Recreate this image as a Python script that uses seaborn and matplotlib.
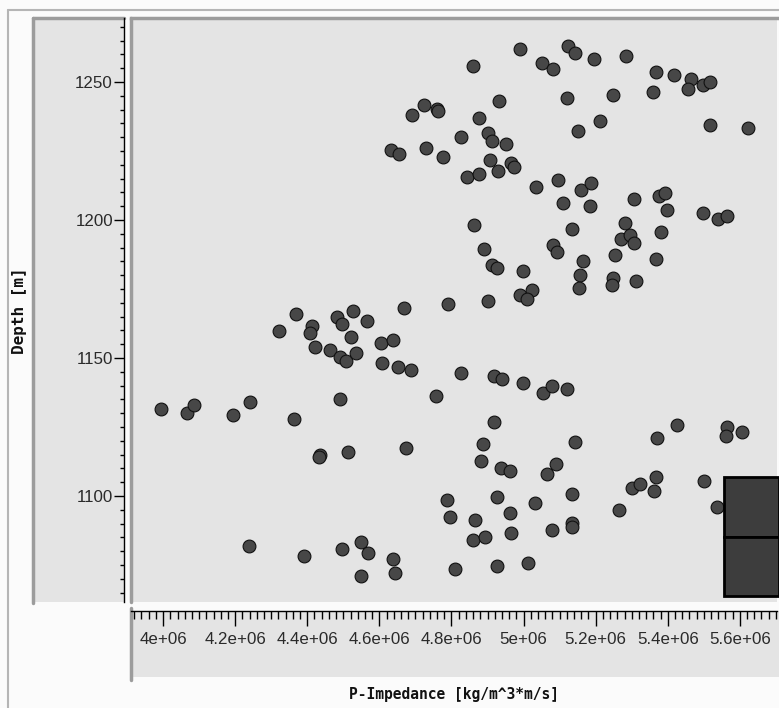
import matplotlib
matplotlib.use("Agg")
import matplotlib.pyplot as plt
import seaborn as sns
import pandas as pd
from matplotlib.patches import Rectangle
from matplotlib.lines import Line2D
from matplotlib.ticker import MultipleLocator

# ---------------- data ----------------
p_impedance = [
    4.990e6, 4.859e6, 5.124e6, 5.143e6, 5.052e6, 5.081e6, 5.194e6, 5.284e6, 5.368e6, 5.416e6,
    5.464e6, 5.457e6, 5.499e6, 5.517e6, 5.358e6, 5.249e6, 5.120e6, 4.933e6, 4.724e6, 4.690e6,
    4.761e6, 4.763e6, 5.517e6, 5.622e6, 5.212e6, 5.150e6, 4.876e6, 4.826e6, 4.902e6, 4.912e6,
    4.951e6, 4.632e6, 4.654e6, 4.730e6, 4.776e6, 4.907e6, 4.930e6, 4.965e6, 4.974e6, 4.844e6,
    4.876e6, 5.035e6, 5.095e6, 5.159e6, 5.186e6, 5.110e6, 5.183e6, 5.305e6, 5.377e6, 5.393e6,
    5.399e6, 5.499e6, 5.538e6, 5.564e6, 4.863e6, 5.134e6, 5.280e6, 5.270e6, 5.295e6, 5.305e6,
    5.381e6, 4.891e6, 5.081e6, 5.094e6, 4.912e6, 4.926e6, 4.998e6, 5.164e6, 5.157e6, 5.154e6,
    5.254e6, 5.368e6, 5.249e6, 5.245e6, 5.312e6, 4.990e6, 5.023e6, 5.009e6, 4.902e6,
    4.370e6, 4.321e6, 4.413e6, 4.407e6, 4.483e6, 4.497e6, 4.526e6, 4.567e6, 4.668e6, 4.791e6,
    4.520e6, 4.422e6, 4.463e6, 4.491e6, 4.508e6, 4.535e6, 4.604e6, 4.637e6, 4.606e6, 4.651e6,
    4.687e6, 4.826e6, 4.756e6, 4.490e6, 3.995e6, 4.067e6, 4.087e6, 4.194e6, 4.240e6, 4.364e6,
    4.436e6, 4.432e6, 4.513e6, 4.674e6, 4.787e6, 4.796e6, 4.239e6, 4.390e6, 4.497e6, 4.550e6,
    4.569e6, 4.550e6, 4.639e6, 4.644e6, 4.811e6,
    4.918e6, 4.940e6, 4.999e6, 5.055e6, 5.078e6, 5.121e6, 4.919e6, 4.887e6, 4.883e6, 4.937e6,
    4.963e6, 5.064e6, 5.090e6, 5.143e6, 5.370e6, 5.426e6, 5.564e6, 5.562e6, 5.607e6, 4.927e6,
    4.961e6, 5.033e6, 5.135e6, 4.865e6, 4.861e6, 4.893e6, 4.966e6, 5.079e6, 5.135e6, 5.135e6,
    4.927e6, 5.012e6, 5.265e6, 5.301e6, 5.323e6, 5.366e6, 5.361e6, 5.500e6, 5.536e6,
]
depth = [
    1261.8, 1255.9, 1263.0, 1260.6, 1257.0, 1254.6, 1258.2, 1259.4, 1253.6, 1252.4,
    1251.2, 1247.4, 1248.9, 1250.1, 1246.4, 1245.2, 1244.1, 1243.0, 1241.8, 1238.0,
    1240.3, 1239.4, 1234.5, 1233.3, 1236.0, 1232.2, 1236.8, 1230.0, 1231.4, 1228.6,
    1227.5, 1225.4, 1223.8, 1226.2, 1222.8, 1221.7, 1217.9, 1220.5, 1219.3, 1215.7,
    1216.7, 1212.1, 1214.4, 1210.9, 1213.3, 1206.3, 1205.1, 1207.5, 1208.7, 1209.9,
    1203.6, 1202.6, 1200.3, 1201.4, 1198.1, 1196.6, 1199.0, 1193.0, 1194.6, 1191.8,
    1195.7, 1189.6, 1190.9, 1188.5, 1183.7, 1182.5, 1181.4, 1185.0, 1180.1, 1175.5,
    1187.2, 1186.0, 1179.1, 1176.4, 1177.9, 1172.8, 1174.6, 1171.3, 1170.8,
    1165.9, 1159.9, 1161.6, 1158.9, 1165.0, 1162.3, 1167.1, 1163.5, 1168.2, 1169.5,
    1157.5, 1154.1, 1152.9, 1150.3, 1149.0, 1151.7, 1155.3, 1156.5, 1148.1, 1146.8,
    1145.7, 1144.7, 1136.2, 1135.0, 1131.6, 1130.2, 1132.9, 1129.2, 1134.1, 1127.9,
    1115.0, 1114.2, 1116.1, 1117.4, 1098.6, 1092.3, 1081.9, 1078.3, 1080.7, 1083.3,
    1079.5, 1071.1, 1077.3, 1072.2, 1073.7,
    1143.5, 1142.3, 1141.1, 1137.4, 1140.0, 1138.8, 1126.7, 1118.7, 1112.6, 1110.1,
    1108.9, 1107.9, 1111.6, 1119.7, 1120.9, 1125.6, 1124.9, 1121.8, 1123.3, 1099.5,
    1093.7, 1097.4, 1100.7, 1091.3, 1084.1, 1085.3, 1086.5, 1087.7, 1090.1, 1088.7,
    1074.7, 1075.8, 1094.9, 1103.0, 1104.2, 1106.8, 1101.8, 1105.4, 1095.9,
]

x_ticks = [4.0e6, 4.2e6, 4.4e6, 4.6e6, 4.8e6, 5.0e6, 5.2e6, 5.4e6, 5.6e6]
x_tick_labels = ["4e+06", "4.2e+06", "4.4e+06", "4.6e+06", "4.8e+06",
                 "5e+06", "5.2e+06", "5.4e+06", "5.6e+06"]
y_ticks = [1100, 1150, 1200, 1250]
y_tick_labels = ["1100", "1150", "1200", "1250"]
x_range = [3.911e6, 5.703e6]
y_range = [1061.6, 1273.2]
x_label = "P-Impedance [kg/m^3*m/s]"
y_label = "Depth [m]"

df = pd.DataFrame({"P-Impedance": p_impedance, "Depth": depth})

# ---------------- style ----------------
sns.set_style("ticks")
plt.rcParams["font.family"] = ["Liberation Sans", "DejaVu Sans"]

W, H = 779, 708
fig = plt.figure(figsize=(W / 100, H / 100), dpi=100)
fig.patch.set_facecolor("#fbfbfb")


def fx(px):
    return px / W


def fy(py):
    return 1 - py / H


PANEL = "#e4e4e4"
BORDER = "#9c9c9c"

# background panels (behind axes)
fig.add_artist(Rectangle((fx(33), fy(602)), fx(124) - fx(33), fy(18) - fy(602),
                         transform=fig.transFigure, facecolor=PANEL, edgecolor="none", zorder=-2))
fig.add_artist(Rectangle((fx(131), fy(677)), fx(779) - fx(131), fy(611) - fy(677),
                         transform=fig.transFigure, facecolor=PANEL, edgecolor="none", zorder=-2))
# panel borders
for xs, ys, lw in [
    ([33, 33], [18, 603], 2.5),
    ([33, 124], [18, 18], 2.5),
    ([131, 131], [608, 680], 2.5),
    ([8, 8], [10, 708], 1.5),
    ([8, 779], [10, 10], 1.5),
]:
    fig.add_artist(Line2D([fx(v) for v in xs], [fy(v) for v in ys], transform=fig.transFigure,
                          color=BORDER if lw > 2 else "#b5b5b5", lw=lw, zorder=-1))

ax = fig.add_axes([fx(131), fy(602), fx(777) - fx(131), fy(18) - fy(602)])
ax.set_facecolor(PANEL)

sns.scatterplot(data=df, x="P-Impedance", y="Depth", ax=ax, s=85,
                color="#474747", edgecolor="#111111", linewidth=0.8, zorder=3, legend=False)

ax.set_xlim(*x_range)
ax.set_ylim(*y_range)
ax.set_xticks(x_ticks, labels=x_tick_labels)
ax.set_yticks(y_ticks, labels=y_tick_labels)
ax.xaxis.set_minor_locator(MultipleLocator(0.02e6))
ax.yaxis.set_minor_locator(MultipleLocator(5))
ax.set_xlabel("")
ax.set_ylabel("")

ax.spines["right"].set_visible(False)
ax.spines["top"].set_color(BORDER)
ax.spines["top"].set_linewidth(2.5)
ax.spines["left"].set_position(("outward", 5))
ax.spines["left"].set_color("black")
ax.spines["left"].set_linewidth(1)
ax.spines["bottom"].set_position(("outward", 6.5))
ax.spines["bottom"].set_color("black")
ax.spines["bottom"].set_linewidth(1)
ax.add_line(Line2D([0, 0], [0, 1], transform=ax.transAxes, color=BORDER, lw=2.5, clip_on=False))

ax.tick_params(axis="y", which="major", direction="out", length=7, width=1, pad=1,
               labelsize=12.2, labelcolor="#2a2a2a", color="black")
ax.tick_params(axis="y", which="minor", direction="out", length=3.2, width=1, color="black")
ax.tick_params(axis="x", which="major", direction="out", length=10.8, width=1, pad=4,
               labelsize=12.2, labelcolor="#2a2a2a", color="black")
ax.tick_params(axis="x", which="minor", direction="out", length=5.5, width=1, color="black")

# dark boxes at the lower right
for top, bot in [(477, 537), (537, 596)]:
    fig.add_artist(Rectangle((fx(724), fy(bot)), fx(779) - fx(724), fy(top) - fy(bot),
                             transform=fig.transFigure, facecolor="#3d3d3d",
                             edgecolor="black", lw=2, zorder=5))

fig.text(fx(454), fy(695), x_label, ha="center", va="center", fontsize=10.5,
         fontweight="bold", family=["DejaVu Sans Mono"], color="#111111")
fig.text(fx(20), fy(311), y_label, ha="center", va="center", rotation=90, fontsize=11.5,
         fontweight="bold", family=["DejaVu Sans Mono"], color="#111111")

fig.savefig("out.png", dpi=100, facecolor=fig.get_facecolor())
